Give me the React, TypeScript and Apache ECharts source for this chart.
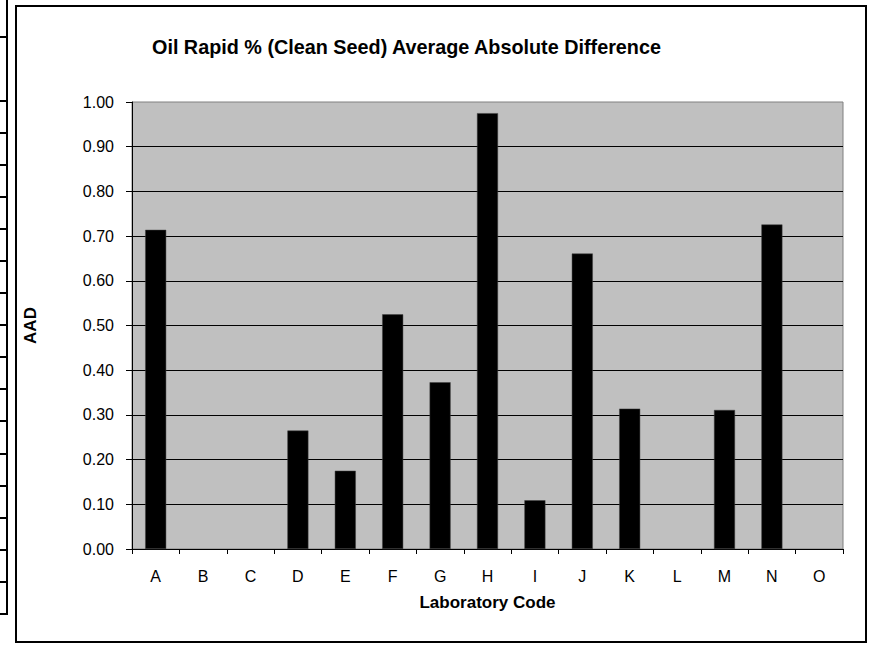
import React, { useEffect, useRef } from "react";
import * as echarts from "echarts";

const categories = ["A", "B", "C", "D", "E", "F", "G", "H", "I", "J", "K", "L", "M", "N", "O"];
const aadValues: (number | null)[] = [0.714, null, null, 0.265, 0.175, 0.525, 0.373, 0.975, 0.109, 0.661, 0.314, null, 0.311, 0.726, null];
const titleText = "Oil Rapid % (Clean Seed) Average Absolute Difference";
const xAxisName = "Laboratory Code";
const yAxisName = "AAD";
const tableRowLines = [37, 101, 133, 165, 197, 229, 261, 293, 325, 357, 389, 421, 454, 486, 518, 550, 582, 614];

const FONT = "Arial, 'Liberation Sans', sans-serif";

export default function App() {
  const ref = useRef<HTMLDivElement>(null);
  useEffect(() => {
    if (!ref.current) return;
    const chart = echarts.init(ref.current, undefined, { renderer: "svg" });
    const graphics: any[] = [
      {
        type: "line",
        shape: { x1: 7, y1: 0, x2: 7, y2: 615 },
        style: { stroke: "#000", lineWidth: 2 },
        silent: true,
      },
      ...tableRowLines.map((y) => ({
        type: "line",
        shape: { x1: 0, y1: y, x2: 8, y2: y },
        style: { stroke: "#000", lineWidth: 2 },
        silent: true,
      })),
      {
        type: "rect",
        shape: { x: 16, y: 6, width: 850, height: 636 },
        style: { fill: "none", stroke: "#000", lineWidth: 2 },
        silent: true,
      },
    ];
    chart.setOption({
      animation: false,
      backgroundColor: "#fff",
      title: {
        text: titleText,
        left: 147,
        top: 32,
        textStyle: { fontFamily: FONT, fontSize: 19.8, fontWeight: "bold", color: "#000" },
      },
      graphic: graphics,
      grid: {
        left: 132,
        right: 31,
        top: 102,
        bottom: 96,
        show: true,
        backgroundColor: "#C0C0C0",
        borderColor: "#808080",
        borderWidth: 1,
      },
      xAxis: {
        type: "category",
        data: categories,
        boundaryGap: true,
        name: xAxisName,
        nameLocation: "middle",
        nameGap: 45,
        nameTextStyle: { fontFamily: FONT, fontSize: 17, fontWeight: "bold", color: "#000" },
        axisLine: { show: true, lineStyle: { color: "#000", width: 1 } },
        axisTick: { show: true, length: 5, inside: false, lineStyle: { color: "#000" } },
        axisLabel: { fontFamily: FONT, fontSize: 16, color: "#000", margin: 19 },
        splitLine: { show: false },
      },
      yAxis: {
        type: "value",
        min: 0,
        max: 1,
        interval: 0.1,
        name: yAxisName,
        nameLocation: "middle",
        nameGap: 93,
        nameRotate: 90,
        nameTextStyle: { fontFamily: FONT, fontSize: 17, fontWeight: "bold", color: "#000" },
        axisLine: { show: true, lineStyle: { color: "#000", width: 1 } },
        axisTick: { show: true, length: 6, inside: false, lineStyle: { color: "#000" } },
        axisLabel: {
          fontFamily: FONT,
          fontSize: 16,
          color: "#000",
          margin: 18,
          formatter: (v: number) => v.toFixed(2),
        },
        splitLine: { show: true, showMinLine: false, showMaxLine: false, lineStyle: { color: "#000", width: 1 } },
      },
      series: [
        {
          type: "bar",
          data: aadValues,
          barWidth: 21,
          itemStyle: { color: "#000", borderColor: "#404040", borderWidth: 0.5 },
        },
      ],
    });
    return () => chart.dispose();
  }, []);
  return (
    <div
      ref={ref}
      style={{ position: "fixed", left: 0, top: 0, width: 874, height: 645 }}
    />
  );
}
